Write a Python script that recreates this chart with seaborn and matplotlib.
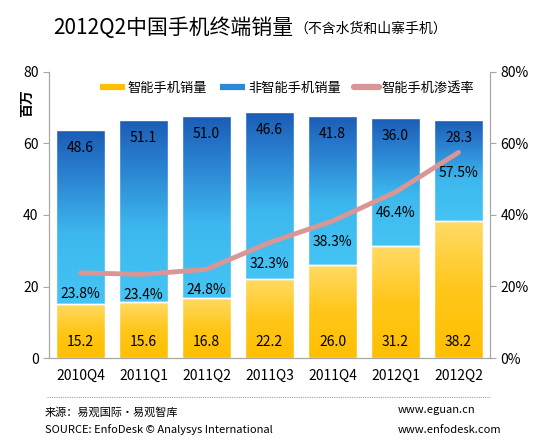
import numpy as np
import matplotlib
matplotlib.use("Agg")
import matplotlib.pyplot as plt
import seaborn as sns
import pandas as pd
from matplotlib.colors import LinearSegmentedColormap
from matplotlib.lines import Line2D

# data
quarters = ["2010Q4", "2011Q1", "2011Q2", "2011Q3", "2011Q4", "2012Q1", "2012Q2"]
smart = [15.2, 15.6, 16.8, 22.2, 26.0, 31.2, 38.2]
nonsmart = [48.6, 51.1, 51.0, 46.6, 41.8, 36.0, 28.3]
penetration = [23.8, 23.4, 24.8, 32.3, 38.3, 46.4, 57.5]

df = pd.DataFrame({"quarter": quarters, "smart": smart, "nonsmart": nonsmart,
                   "pct": penetration})
df["idx"] = range(len(df))

sns.set_style("white")
plt.rcParams["font.family"] = ["Noto Sans CJK SC", "DejaVu Sans"]
plt.rcParams["text.color"] = "black"

fig = plt.figure(figsize=(5.4, 4.4), dpi=100)
ax = fig.add_axes([49 / 540, 82 / 440, 441 / 540, 286 / 440])

sns.barplot(data=df, x="quarter", y="smart", ax=ax, width=0.78,
            color="#FFC000", edgecolor="white", linewidth=1)
sns.barplot(data=df, x="quarter", y="nonsmart", bottom=df["smart"], ax=ax,
            width=0.78, color="#2A8AD8", edgecolor="white", linewidth=1)

# gradient fills clipped to each bar
yellow_cm = LinearSegmentedColormap.from_list("y", ["#FFBF00", "#FFC71A", "#FFDA66"])
blue_cm = LinearSegmentedColormap.from_list("b", [(0, "#44C4F4"), (0.4, "#3DB8EE"),
                                                 (0.75, "#2A80D0"), (1, "#1B5CB5")])
grad = np.linspace(0, 1, 512).reshape(-1, 1)
n = len(quarters)
for k, p in enumerate(list(ax.patches)):
    cm = yellow_cm if k < n else blue_cm
    x0, y0 = p.get_x(), p.get_y()
    w, h = p.get_width(), p.get_height()
    im = ax.imshow(grad, cmap=cm, aspect="auto", origin="lower",
                   extent=[x0, x0 + w, y0, y0 + h], zorder=1)
    im.set_clip_path(p)
    p.set_facecolor("none")
    p.set_zorder(2)

ax.set_xlim(-0.5, n - 0.5)
ax.set_ylim(0, 80)
ax.set_yticks([0, 20, 40, 60, 80])
ax.set_xlabel("")
ax.set_ylabel("")
ax.set_xticks(range(n))
ax.set_xticklabels(quarters)
ax.set_xticks(np.arange(-0.5, n, 1), minor=True)
ax.tick_params(axis="x", which="major", length=0, labelsize=10, pad=8, labelcolor="black")
ax.tick_params(axis="x", which="minor", length=4, color="#A6A6A6", direction="out")
ax.tick_params(axis="y", length=4, color="#A6A6A6", direction="out", labelsize=10,
               left=True, labelcolor="black")

for i in range(n):
    ax.annotate(f"{smart[i]:.1f}", (i, 0), xytext=(0, 16), textcoords="offset pixels",
                ha="center", va="center", fontsize=10, zorder=5)
    ax.annotate(f"{nonsmart[i]:.1f}", (i, smart[i] + nonsmart[i]), xytext=(0, -18),
                textcoords="offset pixels", ha="center", va="center", fontsize=10, zorder=5)

ax2 = ax.twinx()
sns.lineplot(data=df, x="idx", y="pct", ax=ax2, color="#D99694", linewidth=3.5,
             solid_joinstyle="round", solid_capstyle="round", zorder=4)
ax2.set_ylim(0, 80)
ax2.set_xlim(-0.5, n - 0.5)
ax2.set_yticks([0, 20, 40, 60, 80])
ax2.set_yticklabels([f"{v}%" for v in [0, 20, 40, 60, 80]])
ax2.set_ylabel("")
ax2.set_xlabel("")
ax2.tick_params(axis="y", length=4, color="#A6A6A6", direction="out", labelsize=10,
                right=True, labelcolor="black")
for i in range(n):
    ax2.annotate(f"{penetration[i]}%", (i, penetration[i]), xytext=(0, -21),
                 textcoords="offset pixels", ha="center", va="center", fontsize=10, zorder=5)

for a in (ax, ax2):
    a.spines["top"].set_visible(False)
    for s in ("left", "right", "bottom"):
        a.spines[s].set_color("#A6A6A6")

# legend
handles = [Line2D([], [], color="#FFC000", lw=4.5, solid_capstyle="butt"),
           Line2D([], [], color="#2A8AD8", lw=4.5, solid_capstyle="butt"),
           Line2D([], [], color="#D99694", lw=4.5, solid_capstyle="round")]
fig.legend(handles, ["智能手机销量", "非智能手机销量", "智能手机渗透率"],
           loc="center left", bbox_to_anchor=(100 / 540, 1 - 88 / 440), ncol=3,
           frameon=False, fontsize=9.5, handlelength=1.9, handletextpad=0.2,
           columnspacing=1.0, borderpad=0, borderaxespad=0)

# titles
t = fig.text(53 / 540, 1 - 28 / 440, "2012Q2中国手机终端销量", fontsize=15,
             va="center", ha="left")
fig.canvas.draw()
bb = t.get_window_extent()
fig.text(bb.x1 / 540 + 0.002, 1 - 29 / 440, "（不含水货和山寨手机）", fontsize=10,
         va="center", ha="left")
fig.text(27 / 540, 1 - 103 / 440, "百万", rotation=90, fontsize=10, weight="bold",
         ha="center", va="center")

# footer
fig.add_artist(Line2D([47 / 540, 490 / 540], [1 - 397 / 440] * 2, ls=(0, (1, 1)),
                      color="#A0A0A0", lw=0.8))
fig.text(45 / 540, 1 - 412 / 440, "来源：易观国际·易观智库", fontsize=8, va="center")
fig.text(45 / 540, 1 - 430 / 440, "SOURCE: EnfoDesk © Analysys International",
         fontsize=8, va="center")
fig.text(398 / 540, 1 - 410 / 440, "www.eguan.cn", fontsize=8, va="center")
fig.text(398 / 540, 1 - 430 / 440, "www.enfodesk.com", fontsize=8, va="center")

fig.savefig("out.png", dpi=100)
